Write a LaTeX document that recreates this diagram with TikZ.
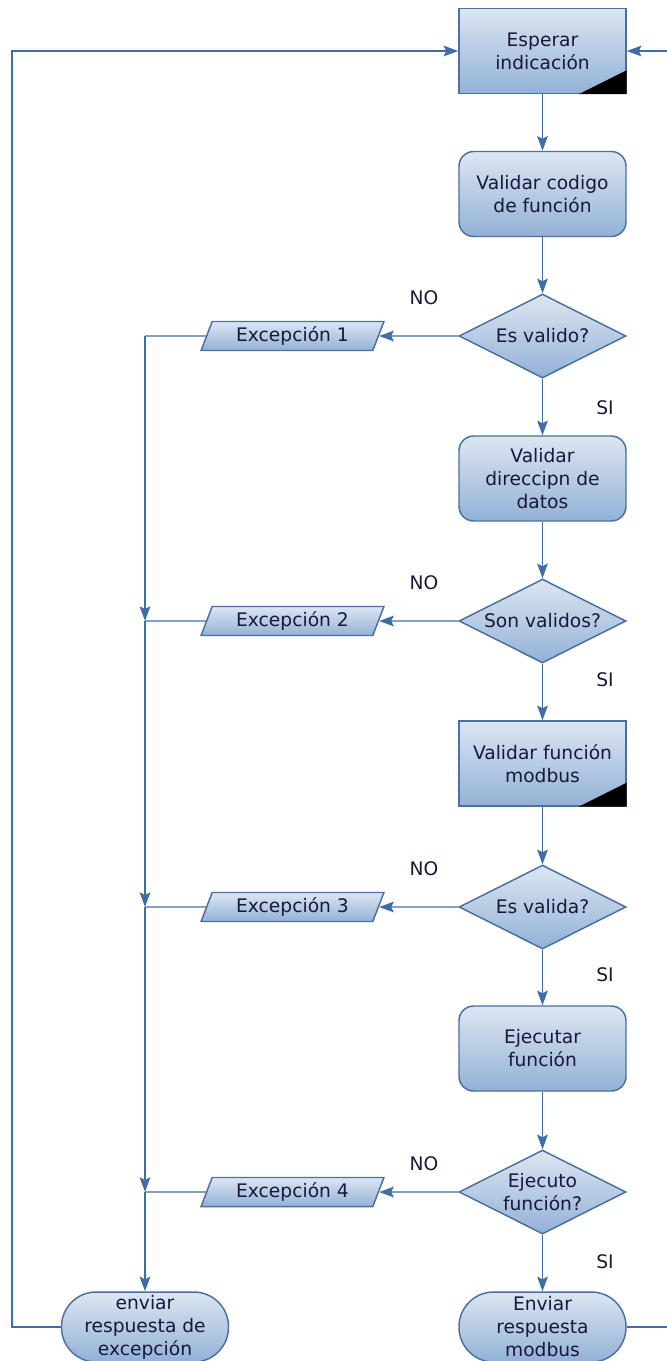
\documentclass[tikz,border=0pt]{standalone}
\usepackage{fontspec}
\newfontfamily\chartfont{DejaVu Sans}
\usetikzlibrary{shapes.geometric,arrows.meta}
\newcommand\pxu{0.75pt}
\definecolor{boxtop}{HTML}{DCE6F2}
\definecolor{boxbot}{HTML}{93B1D6}
\definecolor{boxline}{HTML}{4A6FA0}
\definecolor{flowline}{HTML}{3F6EA6}
\definecolor{ink}{HTML}{18183A}
\tikzset{
  base/.style={draw=boxline, line width=1.1pt, top color=boxtop, bottom color=boxbot,
    font=\chartfont\fontsize{14}{17.25}\selectfont, text=ink, align=center, inner sep=0pt},
  procbox/.style={base, rectangle, minimum width=167*\pxu, minimum height=85*\pxu},
  roundbox/.style={procbox, rounded corners=11pt},
  termbox/.style={procbox, minimum height=70*\pxu, rounded corners=26pt},
  decision/.style={base, diamond, aspect=2, minimum width=167*\pxu, minimum height=84*\pxu},
  iobox/.style={base, trapezium, trapezium left angle=67.5, trapezium right angle=112.5,
    trapezium stretches=true, minimum width=183*\pxu, minimum height=29*\pxu},
  link/.style={draw=flowline, line width=1.1pt},
  flow/.style={link, -{Stealth[length=11pt,width=8pt,inset=2pt]}},
  answer/.style={font=\chartfont\fontsize{14}{17.25}\selectfont, text=ink},
}
\begin{document}
\begin{tikzpicture}[x=0.75pt,y=-0.75pt]
\useasboundingbox (0,0) rectangle (667,1361);
\clip (0,0) rectangle (667,1361);

% main column
\node[procbox]  (wait)  at (542.5,51)    {Esperar\\indicación};
\fill (wait.south east) -- ++(-48,0) -- ++(48,-24) -- cycle;
\node[roundbox] (vcode) at (542.5,194)   {Validar codigo\\de función};
\node[decision] (d1)    at (542.5,336)   {Es valido?};
\node[roundbox] (vaddr) at (542.5,478.5) {Validar\\direccipn de\\datos};
\node[decision] (d2)    at (542.5,621)   {Son validos?};
\node[procbox]  (vmod)  at (542.5,763.5) {Validar función\\modbus};
\fill (vmod.south east) -- ++(-48,0) -- ++(48,-24) -- cycle;
\node[decision] (d3)    at (542.5,907)   {Es valida?};
\node[roundbox] (exec)  at (542.5,1048.5){Ejecutar\\función};
\node[decision] (d4)    at (542.5,1192)  {Ejecuto\\función?};
\node[termbox]  (sendok) at (542.5,1327) {Enviar\\respuesta\\modbus};

% exception branch
\node[iobox] (e1) at (292.5,336)  {Excepción 1};
\node[iobox] (e2) at (292.5,621)  {Excepción 2};
\node[iobox] (e3) at (292.5,907)  {Excepción 3};
\node[iobox] (e4) at (292.5,1192) {Excepción 4};
\node[termbox] (sendexc) at (145,1327) {enviar\\respuesta de\\excepción};

% branch labels
\node[answer] (no1) at (424,298)  {NO};
\node[answer] (si1) at (605,408)  {SI};
\node[answer] (no2) at (424,583)  {NO};
\node[answer] (si2) at (605,680)  {SI};
\node[answer] (no3) at (424,869)  {NO};
\node[answer] (si3) at (605,975)  {SI};
\node[answer] (no4) at (424,1164) {NO};
\node[answer] (si4) at (605,1262) {SI};

% main flow
\draw[flow] (wait) -- (vcode);
\draw[flow] (vcode) -- (d1);
\draw[flow] (d1) -- (vaddr);
\draw[flow] (vaddr) -- (d2);
\draw[flow] (d2) -- (vmod);
\draw[flow] (vmod) -- (d3);
\draw[flow] (d3) -- (exec);
\draw[flow] (exec) -- (d4);
\draw[flow] (d4) -- (sendok);

% NO branches
\draw[flow] (d1.west) -- (e1.east);
\draw[flow] (d2.west) -- (e2.east);
\draw[flow] (d3.west) -- (e3.east);
\draw[flow] (d4.west) -- (e4.east);

% collector line
\coordinate (j1) at (145,336);
\coordinate (j2) at (145,621);
\coordinate (j3) at (145,907);
\coordinate (j4) at (145,1192);
\draw[link] (e1.west) -- (j1);
\draw[link] (e2.west) -- (j2);
\draw[link] (e3.west) -- (j3);
\draw[link] (e4.west) -- (j4);
\draw[flow] (j1) -- (j2);
\draw[flow] (j2) -- (j3);
\draw[flow] (j3) -- (j4);
\draw[flow] (j4) -- (sendexc.north);

% return paths
\coordinate (retl) at (12,51);
\coordinate (retr) at (667,51);
\coordinate (outr) at (667,1327);
\draw[flow] (sendexc.west) -| (retl) -- (wait.west);
\draw[link] (sendok.east) -- (outr);
\draw[flow] (retr) -- (wait.east);
\end{tikzpicture}
\end{document}
